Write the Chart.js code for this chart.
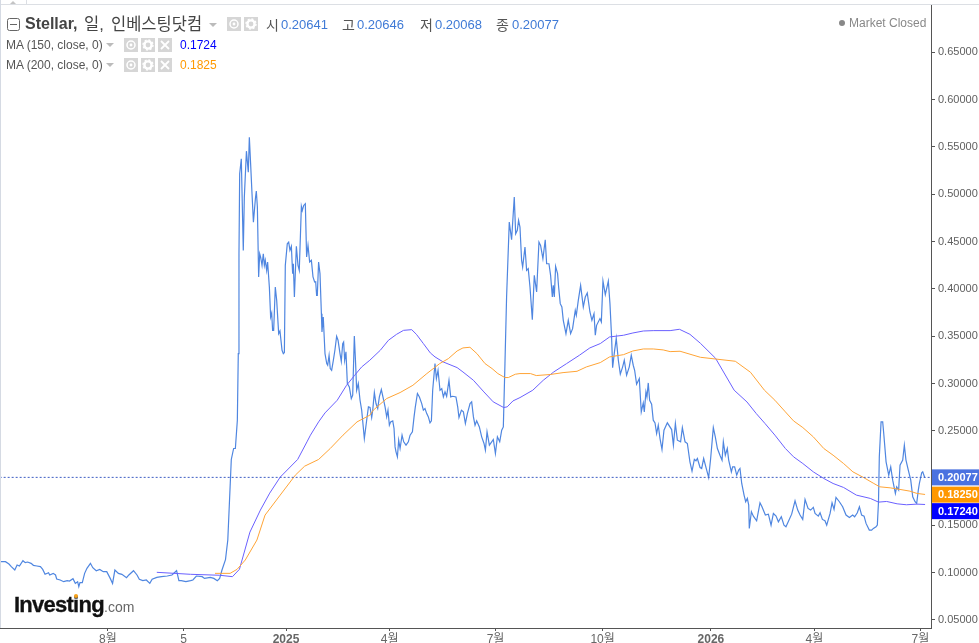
<!DOCTYPE html>
<html lang="ko"><head><meta charset="utf-8">
<script src="https://cdn.jsdelivr.net/npm/chart.js@4"></script>
<style>
html,body{margin:0;padding:0;background:#fff;overflow:hidden}
#wrap{position:relative;width:979px;height:643px;font-family:"Liberation Sans","Noto Sans CJK KR",sans-serif}
#c{position:absolute;left:0;top:0}
.t{position:absolute;white-space:nowrap;line-height:16px}
.ic{position:absolute;width:14px;height:14px;background:#d6d6d6}
.car{position:absolute;width:0;height:0;border-left:4px solid transparent;border-right:4px solid transparent;border-top:4px solid #bbb}
</style></head><body>
<div id="wrap">
<canvas id="c" width="979" height="643"></canvas>
<div style="position:absolute;left:0;top:4px;width:979px;height:1px;background:#dcdfe4"></div>
<div style="position:absolute;left:0;top:0;width:1px;height:628px;background:#d5dae3"></div>
<div style="position:absolute;left:26px;top:0;width:1px;height:4px;background:#dcdfe4"></div>
<div style="position:absolute;left:10px;top:1px;width:0;height:0;border-left:3px solid transparent;border-right:3px solid transparent;border-bottom:3px solid #c4c4c4"></div>
<svg style="position:absolute;left:7px;top:18px" width="13" height="13"><rect x=".5" y=".5" width="12" height="12" rx="2" fill="none" stroke="#666"/><line x1="3" y1="6.5" x2="10" y2="6.5" stroke="#666"/></svg>
<div class="t" style="left:25px;top:16px;font-size:16px;font-weight:700;color:#444">Stellar,</div>
<div class="t" style="left:84px;top:16px;font-size:16.5px;color:#444">일,</div>
<div class="t" style="left:111px;top:16px;font-size:16.5px;color:#444">인베스팅닷컴</div>
<div class="car" style="left:209px;top:23px"></div>
<div class="t" style="left:266px;top:17px;font-size:14px;color:#555">시</div><div class="t" style="left:281px;top:17px;font-size:13px;color:#3f7ad6">0.20641</div>
<div class="t" style="left:342px;top:17px;font-size:14px;color:#555">고</div><div class="t" style="left:357px;top:17px;font-size:13px;color:#3f7ad6">0.20646</div>
<div class="t" style="left:420px;top:17px;font-size:14px;color:#555">저</div><div class="t" style="left:435px;top:17px;font-size:13px;color:#3f7ad6">0.20068</div>
<div class="t" style="left:496px;top:17px;font-size:14px;color:#555">종</div><div class="t" style="left:512px;top:17px;font-size:13px;color:#3f7ad6">0.20077</div>
<div class="t" style="left:6px;top:37px;font-size:12px;color:#555">MA (150, close, 0)</div>
<div class="car" style="left:106px;top:43px"></div>
<div class="t" style="left:180px;top:37px;font-size:12px;color:#0000ff">0.1724</div>
<div class="t" style="left:6px;top:57px;font-size:12px;color:#555">MA (200, close, 0)</div>
<div class="car" style="left:106px;top:63px"></div>
<div class="t" style="left:180px;top:57px;font-size:12px;color:#ff9900">0.1825</div>
<div class="t" style="left:849px;top:15px;font-size:12px;color:#888">Market Closed</div>
<div style="position:absolute;left:839px;top:20px;width:6px;height:6px;border-radius:3px;background:#888"></div>
<div class="t" style="left:14px;top:594px;font-size:22px;line-height:22px;font-weight:700;letter-spacing:-.75px;color:#111;-webkit-text-stroke:.3px #111">Investing</div>
<div class="t" style="left:104px;top:598px;font-size:14px;line-height:18px;color:#666">.com</div>
<div style="position:absolute;left:74px;top:594px;width:4px;height:4px;border-radius:2px;background:#f7a21b"></div>
</div>
<script>
// x = days since 2025-01-01
const priceDays=[-245,-241,-238,-236,-233,-231,-229,-226,-224,-222,-219,-217,-214,-211,-209,-207,-204,-203,-200,-198,-197,-194,-191,-188,-186,-183,-181,-179,-178,-177,-175,-173,-171,-168,-166,-163,-160,-157,-154,-151,-149,-147,-144,-141,-137,-135,-131,-128,-126,-123,-120,-117,-115,-111,-107,-102,-98,-94,-92,-90,-86,-82,-80,-77,-72,-70,-65,-62,-59,-57,-55,-52,-51,-50,-47,-45,-43.5,-41.8,-41,-40.4,-39.8,-38.4,-36.7,-35.8,-34,-32.4,-31.5,-30.4,-29.2,-28,-26.3,-25.5,-24.6,-23.5,-22.6,-21.8,-20.6,-19.5,-18.6,-17.8,-16.6,-15.8,-14.3,-13.2,-12.3,-11.5,-10.6,-9.2,-8,-6.3,-5.2,-3.4,-2.3,-1.4,-0.6,1.1,2.3,3.4,4.6,5.7,6.3,7.2,8.9,10.3,11.4,13.2,14,15.2,16.6,17.7,18.9,20.3,21.8,23.2,24.6,25.5,26.3,26.9,28,29.2,30.4,30.9,32,33.5,35,35.8,37,38,39.2,40.7,42,43.5,44.7,46.4,47.5,48.7,49.5,50.4,51.5,52.7,54.4,56.1,57.3,58.7,59.8,60.7,62.1,63.6,65,67.3,69.3,70.8,72.2,73.6,74.5,75.9,77.3,78.8,80.2,81.9,83.6,85.1,86.5,87.6,88.8,89.9,91.7,92.8,93.7,94.5,95.7,96.8,98,99.7,101.1,103.1,105.1,106.6,108.6,110,111.1,112.9,114.6,116.6,118,119.4,120.9,122.3,123.7,124.9,126,128,129.2,130.6,132.3,133.8,135.2,136.6,138,140,141.5,143.2,146,147.5,148.6,150.7,152.4,154.1,155.8,158.1,159.5,161,162.4,163.8,166.1,168.1,170.1,171.3,172.7,174.7,176.7,178.1,179.9,181.6,183.6,185.3,186.7,188.1,189.5,191.8,193.8,196.1,197.3,198.7,199.8,201,202.4,203.3,205.3,206.7,208.1,209.6,211.6,213.3,215.3,217.3,218.7,220.7,222.7,223.9,225.9,227.3,228.8,229.6,230.5,231.6,233.3,234.2,235.6,237,238.2,240.5,242.5,244.5,246.2,248.5,249.4,251.1,253.1,255.4,257.1,258.8,261.1,262.8,264.6,265.7,266.8,269.7,270.9,272.3,274.3,276.9,278.3,279.7,280.6,282,283.7,285.5,287.2,289.2,290.6,292.6,294.9,296.6,298.3,299.5,301.2,303.5,305.2,306.9,307.8,309.2,310.1,311.2,312.4,314.1,315.5,317,318.4,319.8,321.3,323,324.7,327.6,331.3,332.8,334.5,336.2,339,340.5,342.8,344.8,347,348.8,350.8,352.2,353.4,355.7,357.1,358.8,361.4,363.1,364.8,367.1,368.8,370.6,372.8,374.6,375.7,377.4,379.1,380.3,382.6,383.7,385.4,387.2,388.9,390,391.5,393.5,394.9,396.3,397.5,398,399.8,401.5,404.3,407.2,408.9,411.8,414.4,416.7,418.7,421,423,425.5,427.8,429.5,434.4,437.3,439.6,441.6,443.9,445.9,448.5,450.7,453,454.5,457.3,458.8,460.8,463,464.5,467.4,469.1,470.8,472.5,475.4,478.2,481.1,484,486.8,488.5,490.8,492.6,494.5,496.6,498.3,501.1,503.1,504.6,506.9,508,509,509.7,511.2,512.6,513.5,515.5,517.8,519.5,521.2,523.5,524.6,526.3,527.5,529.8,531.2,532.6,534.6,536.7,538.4,540.4,541.8,543.2,544.1,546.1,547,548.7];
const priceValues=[.1116,.1116,.1092,.1064,.1028,.1081,.1071,.1127,.1106,.1113,.1099,.1078,.1071,.1064,.1035,.0983,.1,.0976,.0993,.0976,.0933,.0923,.0905,.0916,.0912,.0937,.0887,.0905,.0852,.0895,.0895,.0993,.1046,.1099,.1053,.1021,.1035,.1011,.1011,.094,.0887,.1028,.0993,.0983,.0947,.0976,.1021,.0976,.093,.0916,.0923,.0887,.093,.0951,.0958,.0965,.0976,.1021,.0916,.0916,.0905,.0916,.0923,.0965,.0958,.094,.0951,.094,.0916,.094,.1028,.1137,.1243,.1345,.2197,.2313,.2313,.2612,.3316,.4372,.5217,.5375,.4407,.497,.5456,.5234,.5604,.5322,.5005,.4706,.4953,.5034,.4865,.4126,.4372,.4337,.4249,.4372,.4249,.4302,.4196,.4284,.402,.3703,.3745,.3562,.3562,.402,.3879,.3527,.3555,.3351,.3316,.3327,.4249,.4477,.4495,.4408,.445,.4161,.4266,.3914,.445,.4249,.4196,.4872,.4829,.4882,.49,.4337,.446,.4284,.4302,.4126,.4073,.4076,.3932,.3932,.4284,.4161,.3738,.3545,.3703,.3316,.321,.3193,.3298,.3158,.314,.3246,.3351,.3499,.3457,.3316,.3235,.3422,.3439,.3246,.3334,.2999,.2964,.2841,.2876,.3503,.321,.2929,.2999,.2823,.2718,.2418,.2612,.2753,.2746,.264,.2718,.2904,.2788,.2735,.2858,.2936,.2841,.2753,.2647,.2718,.2559,.2594,.2605,.2524,.233,.2278,.2225,.2401,.2313,.2454,.2383,.2348,.2383,.2454,.2489,.2647,.2753,.2894,.2858,.2788,.2718,.2735,.2682,.2647,.2584,.2605,.2929,.321,.3052,.314,.2929,.2946,.2858,.2911,.2865,.3034,.2858,.2865,.2858,.2753,.264,.2718,.27,.2577,.2682,.2788,.2806,.2647,.2559,.2605,.2541,.2436,.2366,.2295,.2489,.2348,.2383,.2408,.226,.2436,.2383,.2506,.2541,.321,.3914,.4706,.452,.497,.4583,.4619,.4724,.4654,.4302,.4231,.4442,.4196,.4214,.402,.3675,.4143,.3967,.4495,.446,.4319,.452,.4266,.4266,.4143,.3914,.4037,.3914,.4238,.4161,.402,.3844,.3809,.3668,.3527,.3668,.3527,.358,.3773,.3721,.3879,.4037,.3809,.3914,.3957,.3756,.3668,.3738,.351,.3615,.3686,.365,.4083,.3939,.4083,.3844,.3492,.3167,.3318,.3477,.3246,.3099,.3176,.3246,.3088,.3176,.3299,.3193,.314,.2992,.3052,.27,.2794,.27,.2911,.2858,.3006,.2823,.2781,.2612,.2584,.2471,.2559,.2418,.2302,.2506,.2584,.2513,.2348,.2577,.2401,.2383,.2534,.2383,.2366,.2172,.2073,.2197,.2183,.2207,.2112,.2102,.2207,.2084,.2007,.2207,.2534,.2436,.2313,.2242,.219,.2383,.2242,.2313,.219,.2066,.2119,.2119,.2031,.2084,.2102,.1943,.182,.175,.1785,.1714,.1468,.1644,.1598,.1549,.1739,.1697,.1609,.1619,.1503,.1626,.1598,.1538,.1591,.1503,.1486,.1619,.176,.1662,.1609,.1563,.1774,.1679,.1662,.169,.1626,.1598,.1633,.1563,.1549,.1503,.1626,.1739,.1669,.1795,.175,.1697,.1609,.1584,.1609,.1591,.1633,.1697,.1609,.1598,.1521,.145,.145,.1468,.1486,.1503,.175,.2225,.2594,.2594,.2471,.2172,.2031,.2119,.1978,.1838,.1908,.1873,.2137,.219,.2348,.219,.2084,.1978,.1802,.175,.1732,.1873,.1943,.2056,.2066,.2007];
const ma150Days=[-111,-82,-57,-46,-40,-31,-22,-14,-5,10,18,21,28,33.5,44,52,59,65,72,81,88,95,101,108,112,118,124,128,135,147,152,161,170,178,187,190,195,201,212,221,230,241,252,261,270,278,290,298,307,316,330,338,347,356,369,385,396,404,411.5,420,429,436,444,453,462,470,479,490,502,509,516,525,533,542,549];
const ma150Values=[.1004,.0983,.0973,.0958,.1036,.1429,.1662,.1841,.201,.2197,.2383,.2454,.2594,.2689,.2823,.2981,.3087,.3175,.3246,.3351,.3457,.352,.3562,.3569,.352,.3422,.3323,.3281,.3228,.3168,.3122,.3034,.2911,.2806,.2746,.2753,.2816,.2851,.2929,.3034,.3122,.321,.3298,.3376,.3422,.3492,.351,.3534,.3555,.3559,.3559,.3573,.352,.3425,.3267,.2929,.2805,.2682,.2577,.2454,.2313,.2225,.2154,.2066,.1996,.1943,.1901,.182,.1785,.1746,.1753,.1728,.1718,.1725,.1721];
const ma200Days=[-61,-55,-48,-42,-35,-25,-18,-5,8,16,28,38,49,61,72,75,86.5,98,109,121,132,139.5,147,152,158,164,171,177,182,188,191,197,201,210,215,227,238,250,258,270,278,290,298,307,315.5,324,330,338.5,356,386,399,411,420,429,436,444,453,462,470,479,487,496,505,510,519,527.5,536,542,549];
const ma200Values=[.0993,.0993,.0993,.1036,.1134,.1345,.1609,.182,.2031,.2126,.2197,.2313,.2454,.2594,.2665,.2718,.2841,.2904,.2981,.3105,.321,.3263,.3344,.3376,.3383,.3316,.321,.3158,.3105,.3063,.3063,.3098,.3105,.3105,.3084,.3095,.3115,.3129,.3175,.3221,.3281,.3305,.3344,.3365,.3365,.3355,.3337,.3341,.3277,.3235,.3119,.2929,.2823,.27,.2605,.2534,.2436,.2313,.2242,.2154,.2066,.2007,.1943,.1908,.1897,.188,.1862,.1838,.1827];
const lastClose=.20077, lastMa200=.1825, lastMa150=.1724;
const lastLineDays=[-246,554.1];
const lastLineValues=[lastClose,lastClose];
const xTickDays=[-153,-88,0,89,180,272,365,454,545];
const xTickLabels=['8월','5','2025','4월','7월','10월','2026','4월','7월'];
const yTickValues=[.05,.1,.15,.2,.25,.3,.35,.4,.45,.5,.55,.6,.65];
const endBoxes=[[lastClose,'0.20077','#4a72e0'],[lastMa200,'0.18250','#ff9800'],[lastMa150,'0.17240','#0000ff']];
const zip=(a,b)=>a.map((x,i)=>({x,y:b[i]}));
const endBoxPlugin={id:'endBoxes',afterDraw(ch){
  const c=ch.ctx,y=ch.scales.y,left=ch.chartArea.right+1;let last=-99;
  c.save();c.font='bold 11px "Liberation Sans"';c.textBaseline='middle';c.textAlign='left';
  endBoxes.forEach(([v,t,col])=>{
    let top=y.getPixelForValue(v)-8; if(top<last)top=last;
    c.fillStyle=col;c.fillRect(left,top,47,16);
    c.fillStyle='#fff';c.fillText(t,left+6,top+8.5);
    last=top+16.5;
  });
  c.restore();
}};
new Chart(document.getElementById('c'),{
  type:'line',
  data:{datasets:[
    {data:zip(lastLineDays,lastLineValues),borderColor:'#3f5fc4',borderWidth:1,borderDash:[2,2]},
    {data:zip(ma200Days,ma200Values),borderColor:'#ffa436',borderWidth:1},
    {data:zip(ma150Days,ma150Values),borderColor:'#6a60ff',borderWidth:1},
    {data:zip(priceDays,priceValues),borderColor:'#4f86e0',borderWidth:1.2}
  ]},
  plugins:[endBoxPlugin],
  options:{
    responsive:false,animation:false,devicePixelRatio:1,
    layout:{padding:{top:5,left:0,right:0,bottom:0}},
    elements:{point:{radius:0},line:{tension:0}},
    plugins:{legend:{display:false},tooltip:{enabled:false},title:{display:false}},
    scales:{
      x:{type:'linear',min:-245.7,max:554.1,
        grid:{drawOnChartArea:false,drawTicks:true,tickLength:3,color:'#555'},
        border:{color:'#555',width:1},
        afterBuildTicks(s){s.ticks=xTickDays.map(value=>({value}));},
        afterFit(s){s.height=15;s.paddingLeft=0;s.paddingRight=0;},
        ticks:{autoSkip:false,maxRotation:0,padding:1,color:'#666',
          font(ctx){return {family:'"Liberation Sans","Noto Sans CJK KR"',size:12,weight:(ctx.tick&&(ctx.tick.value===0||ctx.tick.value===365))?'bold':'normal'};},
          callback(v){return xTickLabels[xTickDays.indexOf(v)];}}},
      y:{position:'right',min:.04154,max:.7001,
        grid:{drawOnChartArea:false,drawTicks:true,tickLength:4,color:'#555'},
        border:{color:'#555',width:1},
        afterBuildTicks(s){s.ticks=yTickValues.map(value=>({value}));},
        afterFit(s){s.width=48;s.paddingTop=0;s.paddingBottom=0;},
        ticks:{padding:3,color:'#606060',font:{family:'"Liberation Sans"',size:11},
          callback(v){return v.toFixed(5);}}}
    }
  }
});
const ICON=(k)=>{
  if(k==0)return '<circle cx="7" cy="7" r="4" fill="none" stroke="#fff" stroke-width="1.5"/><circle cx="7" cy="7" r="1.4" fill="#fff"/>';
  if(k==1)return '<circle cx="7" cy="7" r="3.6" fill="none" stroke="#fff" stroke-width="2.4"/><circle cx="7" cy="7" r="5" fill="none" stroke="#fff" stroke-width="1.4" stroke-dasharray="2 1.9"/>';
  return '<path d="M3 3L11 11M11 3L3 11" stroke="#fff" stroke-width="1.8"/>';
};
const iconRows=[[17,[[227,0],[244,1]]],[38,[[124,0],[141,1],[158,2]]],[58,[[124,0],[141,1],[158,2]]]];
const wrap=document.getElementById('wrap');
iconRows.forEach(([top,list])=>list.forEach(([left,k])=>{
  const d=document.createElement('div');d.className='ic';d.style.left=left+'px';d.style.top=top+'px';
  d.innerHTML='<svg width="14" height="14">'+ICON(k)+'</svg>';wrap.appendChild(d);
}));
</script>
</body></html>
